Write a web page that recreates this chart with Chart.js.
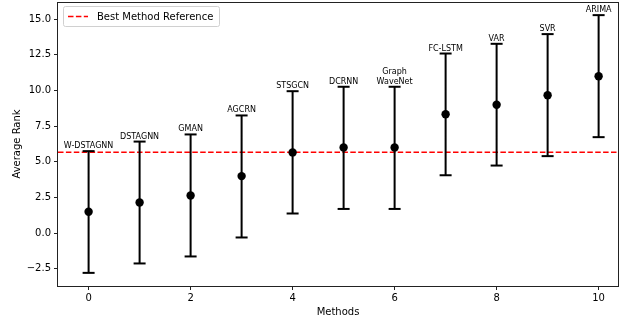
<!DOCTYPE html>
<html>
<head>
<meta charset="utf-8">
<script src="https://cdn.jsdelivr.net/npm/chart.js@4.4.1/dist/chart.umd.min.js"></script>
<style>
html, body { margin: 0; padding: 0; background: #fff; }
#wrap { width: 620px; height: 320px; position: relative; }
</style>
</head>
<body>
<div id="wrap"><canvas id="chart"></canvas></div>
<script>
// Values
const methods = ['W-DSTAGNN', 'DSTAGNN', 'GMAN', 'AGCRN', 'STSGCN', 'DCRNN',
                 'Graph\nWaveNet', 'FC-LSTM', 'VAR', 'SVR', 'ARIMA'];
const meanRank = [1.5, 2.15, 2.64, 4.0, 5.66, 6.0, 6.0, 8.33, 9.0, 9.67, 11.0];
const rankLow  = [-2.78, -2.12, -1.63, -0.3, 1.38, 1.7, 1.7, 4.06, 4.74, 5.4, 6.73];
const rankHigh = [5.75, 6.42, 6.92, 8.25, 9.95, 10.26, 10.26, 12.59, 13.27, 13.95, 15.28];
const refRank = 5.67;
const refLabel = 'Best Method Reference';

const xMin = -0.6, xMax = 10.38;
const yMin = -3.7, yMax = 16.2;

const FONT = '"DejaVu Sans", sans-serif';

// error bar segments, split by null points so each method is its own segment
const errSegments = [];
methods.forEach((m, i) => {
    errSegments.push({ x: i, y: rankLow[i] }, { x: i, y: rankHigh[i] }, { x: i, y: null });
});
const points = meanRank.map((v, i) => ({ x: i, y: v }));

// draws frame, method names and the in-plot legend
const decorations = {
    id: 'decorations',
    afterDatasetsDraw(chart) {
        const { ctx, chartArea: a, scales: { x, y } } = chart;
        ctx.save();

        // method names above the upper caps
        ctx.font = '8px ' + FONT;
        ctx.fillStyle = '#000';
        ctx.textAlign = 'center';
        ctx.textBaseline = 'alphabetic';
        methods.forEach((m, i) => {
            const lines = m.split('\n');
            const px = x.getPixelForValue(i);
            let py = y.getPixelForValue(rankHigh[i]) - 3;
            for (let k = lines.length - 1; k >= 0; k--) {
                ctx.fillText(lines[k], px, py);
                py -= 9.7;
            }
        });

        // axes frame (all four sides)
        ctx.strokeStyle = '#222';
        ctx.lineWidth = 1;
        ctx.strokeRect(Math.round(a.left) - 0.5, Math.round(a.top) + 0.5,
                       Math.round(a.right - a.left) + 1, Math.round(a.bottom - a.top));

        // legend box, upper left
        const lx = a.left + 5, ly = a.top + 4, lw = 156, lh = 20;
        ctx.beginPath();
        ctx.roundRect(lx + 0.5, ly + 0.5, lw, lh, 2);
        ctx.fillStyle = 'rgba(255,255,255,0.8)';
        ctx.fill();
        ctx.strokeStyle = '#d0d0d0';
        ctx.lineWidth = 1;
        ctx.stroke();

        ctx.beginPath();
        ctx.setLineDash([5.5, 2.4]);
        ctx.strokeStyle = '#ff0000';
        ctx.lineWidth = 1.5;
        ctx.moveTo(lx + 5, ly + 10.5);
        ctx.lineTo(lx + 25, ly + 10.5);
        ctx.stroke();
        ctx.setLineDash([]);

        ctx.font = '10px ' + FONT;
        ctx.fillStyle = '#000';
        ctx.textAlign = 'left';
        ctx.textBaseline = 'middle';
        ctx.fillText(refLabel, lx + 34, ly + 11);

        ctx.restore();
    }
};

const tickFont = { family: FONT, size: 10 };

new Chart(document.getElementById('chart'), {
    type: 'scatter',
    data: {
        datasets: [
            {
                label: refLabel,
                data: [{ x: xMin, y: refRank }, { x: xMax, y: refRank }],
                showLine: true,
                borderColor: '#ff0000',
                borderWidth: 1.5,
                borderDash: [5.5, 2.4],
                pointRadius: 0,
                order: 3
            },
            {
                label: 'errors',
                data: errSegments,
                showLine: true,
                spanGaps: false,
                borderColor: '#000',
                borderWidth: 2,
                pointStyle: 'line',
                pointRadius: 6,
                pointBorderWidth: 2,
                pointBorderColor: '#000',
                order: 2
            },
            {
                label: 'mean',
                data: points,
                backgroundColor: '#000',
                borderColor: '#000',
                pointRadius: 4.2,
                pointBorderWidth: 0,
                order: 1
            }
        ]
    },
    options: {
        responsive: true,
        maintainAspectRatio: false,
        animation: false,
        events: [],
        layout: { autoPadding: false, padding: { top: 2, right: 2, left: 0, bottom: 0 } },
        plugins: {
            legend: { display: false },
            tooltip: { enabled: false }
        },
        scales: {
            x: {
                type: 'linear',
                min: xMin,
                max: xMax,
                afterFit: s => { s.height = 34; s.paddingLeft = 0; s.paddingRight = 0; },
                border: { display: false },
                grid: { drawOnChartArea: false, tickLength: 4, color: '#222' },
                ticks: {
                    stepSize: 2,
                    includeBounds: false,
                    autoSkip: false,
                    maxRotation: 0,
                    padding: 2,
                    color: '#000',
                    font: tickFont
                },
                title: {
                    display: true,
                    text: 'Methods',
                    color: '#000',
                    font: tickFont,
                    padding: { top: 0, bottom: 2 }
                }
            },
            y: {
                type: 'linear',
                min: yMin,
                max: yMax,
                afterFit: s => { s.width = 58; s.paddingTop = 0; s.paddingBottom = 0; },
                border: { display: false },
                grid: { drawOnChartArea: false, tickLength: 4, color: '#222' },
                ticks: {
                    stepSize: 2.5,
                    includeBounds: false,
                    autoSkip: false,
                    padding: 3,
                    color: '#000',
                    font: tickFont,
                    callback: v => (v < 0 ? '\u2212' : '') + Math.abs(v).toFixed(1)
                },
                title: {
                    display: true,
                    text: 'Average Rank',
                    color: '#000',
                    font: tickFont,
                    padding: { top: 11, bottom: 0 }
                }
            }
        }
    },
    plugins: [decorations]
});
</script>
</body>
</html>
